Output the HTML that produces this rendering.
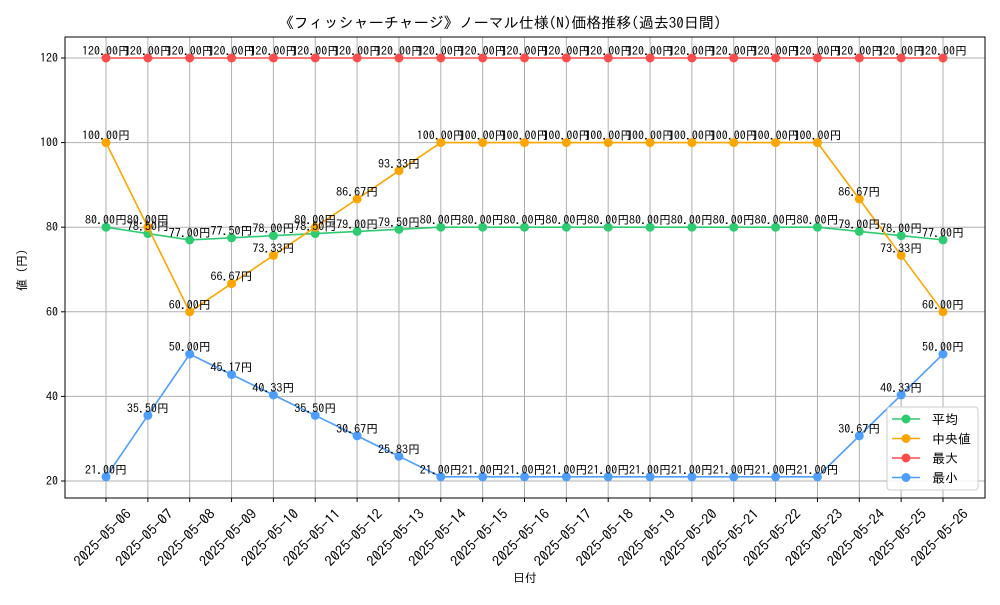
<!DOCTYPE html>
<html><head><meta charset="utf-8"><style>
body{margin:0;background:#fff}
text{font-family:"IPAGothic","Liberation Sans","Noto Sans CJK JP",sans-serif}
</style></head><body>
<svg id="c" width="1000" height="600" xmlns="http://www.w3.org/2000/svg"></svg>
<script>
const dates=["2025-05-06","2025-05-07","2025-05-08","2025-05-09","2025-05-10","2025-05-11","2025-05-12","2025-05-13","2025-05-14","2025-05-15","2025-05-16","2025-05-17","2025-05-18","2025-05-19","2025-05-20","2025-05-21","2025-05-22","2025-05-23","2025-05-24","2025-05-25","2025-05-26"];
const avgVals=[80,78.5,77,77.5,78,78.5,79,79.5,80,80,80,80,80,80,80,80,80,80,79,78,77];
const medVals=[100,80,60,66.67,73.33,80,86.67,93.33,100,100,100,100,100,100,100,100,100,100,86.67,73.33,60];
const maxVals=[120,120,120,120,120,120,120,120,120,120,120,120,120,120,120,120,120,120,120,120,120];
const minVals=[21,35.5,50,45.17,40.33,35.5,30.67,25.83,21,21,21,21,21,21,21,21,21,21,30.67,40.33,50];
const yTicks=[20,40,60,80,100,120];
const seriesNames=["平均","中央値","最大","最小"];

const svg=document.getElementById('c');const NS="http://www.w3.org/2000/svg";
function mk(t,a,p){const e=document.createElementNS(NS,t);for(const k in a)e.setAttribute(k,a[k]);(p||svg).appendChild(e);return e;}
const L=65,R=985,T=37,B=498;
const x=i=>106+i*(943-106)/(dates.length-1);
const y=v=>481-(v-20)*(481-58)/100;
let t=mk('text',{x:500,y:28,'font-size':15,'text-anchor':'middle'});t.textContent="《フィッシャーチャージ》ノーマル仕様(N)価格推移(過去30日間)";

const grid=mk('g',{});
dates.forEach((d,i)=>{mk('line',{x1:x(i),x2:x(i),y1:T,y2:B,stroke:'#b0b0b0','stroke-width':1},grid);
 mk('line',{x1:x(i),x2:x(i),y1:B,y2:B+4,stroke:'#000'});
 const l=mk('text',{x:0,y:0,'font-size':14,'text-anchor':'middle',textLength:74,lengthAdjust:'spacingAndGlyphs',transform:`translate(${x(i)},${541}) rotate(-45)`});l.textContent=d;
 });
yTicks.forEach(v=>{mk('line',{x1:L,x2:R,y1:y(v),y2:y(v),stroke:'#b0b0b0','stroke-width':1},grid);
 mk('line',{x1:L-4,x2:L,y1:y(v),y2:y(v),stroke:'#000'});
 const l=mk('text',{x:L-7,y:y(v)+4,'font-size':12,'text-anchor':'end'});l.textContent=v;
 });
const fr=mk('rect',{x:L,y:T,width:R-L,height:B-T,fill:'none',stroke:'#000','stroke-width':1});

t=mk('text',{x:525,y:582,'font-size':12,'text-anchor':'middle'});t.textContent="日付";
t=mk('text',{x:0,y:0,'font-size':12,'text-anchor':'middle',transform:'translate(26,267) rotate(-90)'});t.textContent="値（円）";
const series=[[avgVals,'#2ecc71','avg'],[medVals,'#ffa500','median'],[maxVals,'#ff4d4d','max'],[minVals,'#4d9eff','min']];
series.forEach(([vals,col,n])=>{
 const g=mk('g',{});
 mk('polyline',{points:vals.map((v,i)=>x(i)+','+y(v)).join(' '),fill:'none',stroke:col,'stroke-width':1.6},g);
 vals.forEach((v,i)=>{const c=mk('circle',{cx:x(i),cy:y(v),r:4.5,fill:col},g);});
});
series.forEach(([vals,col,n])=>{vals.forEach((v,i)=>{const l=mk('text',{x:x(i),y:y(v)-3,'font-size':12,'text-anchor':'middle'});l.textContent=v.toFixed(2)+"円";
 });});
const lg=mk('g',{});
mk('rect',{x:887,y:407,width:91,height:83,rx:3,fill:'#fff','fill-opacity':0.85,stroke:'#ccc'},lg);
series.forEach(([v,col,n],k)=>{const yy=419+k*19.5;
 mk('line',{x1:892,x2:920,y1:yy,y2:yy,stroke:col,'stroke-width':1.6},lg);
 mk('circle',{cx:906,cy:yy,r:4.5,fill:col},lg);
 const l=mk('text',{x:932,y:yy+5,'font-size':13},lg);l.textContent=seriesNames[k];
 });
</script></body></html>
